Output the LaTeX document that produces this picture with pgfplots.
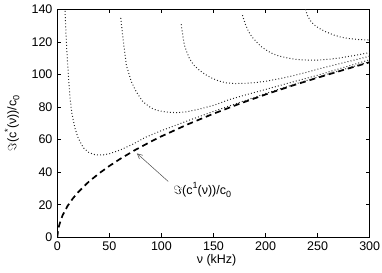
\documentclass[border=0pt]{standalone}
\usepackage{pgfplots}
\pgfplotsset{compat=1.18}
\usetikzlibrary{arrows.meta}
\usepackage{fontspec}
\setmainfont{Liberation Sans}
\newcommand{\sub}[1]{\raisebox{-0.45ex}{\fontsize{9bp}{10bp}\selectfont #1}}
\newcommand{\sups}[1]{\raisebox{0.85ex}{\fontsize{9bp}{10bp}\selectfont #1}}
\begin{document}
\fontsize{12.5bp}{14bp}\selectfont
\begin{tikzpicture}
\begin{axis}[
  scale only axis,
  width=312.4bp, height=228bp,
  xmin=0, xmax=300, ymin=0, ymax=140,
  xtick={0,50,...,300}, ytick={0,20,...,140},
  tick align=inside,
  major tick length=4bp,
  tick pos=both,
  axis line style={line width=0.5bp},
  every tick/.style={black, line width=0.5bp},
  /pgf/number format/assume math mode=true,
  tick label style={font=\fontsize{12.5bp}{14bp}\selectfont},
  xticklabel style={yshift=-0.5bp},
  yticklabel style={xshift=-0.5bp},
  xlabel={ν (kHz)},
  ylabel={$\Im$(c\sups{*}(ν))/c\sub{0}},
  xlabel style={at={(axis description cs:0.51,-0.1)}, anchor=center},
  ylabel style={at={(axis description cs:-0.145,0.5)}, anchor=center},
  clip=true,
]
% fundamental (dashed)
\addplot[black, line width=1.7bp, dash pattern=on 6bp off 4bp] coordinates {
(0,0) (1,5.5) (2.5,8.8) (5,13.4) (10,19.4) (15,23.9) (20,27.7) (30,34) (40,39.2)
(50,43.8) (60,48) (75,53.7) (90,58.8) (100,62) (125,69.3) (150,75.9) (175,82)
(200,87.7) (225,93) (250,98) (275,102.8) (300,107.5)};
% mode 1
\addplot[black!85, line width=1bp, dash pattern=on 0.9bp off 2.2bp] coordinates {
(7.4,139) (8.2,127) (9.2,114) (10.5,101) (12,87) (14,76) (17,67) (20,61) (25,55)
(30,52.2) (35,50.9) (40,50.5) (45,50.7) (50,51.3) (60,53.5) (72,57) (85,61.5)
(100,65.5) (125,71.5) (150,77.3) (175,82.8) (200,88.3) (225,93.4) (250,98.4)
(275,103.1) (300,107.8)};
% mode 2
\addplot[black!85, line width=1bp, dash pattern=on 0.9bp off 2.2bp] coordinates {
(60.9,134.7) (63.1,122) (66.3,105.7) (71.1,95.5) (75.9,89.3) (82.2,83.2) (90,79.5)
(95,78.1) (104.6,76.9) (115,76.5) (123.7,77) (135,78.5) (150,81) (165,84.5)
(180,87.3) (200,90.8) (225,95.2) (250,99.5) (275,104.3) (300,109)};
% mode 3
\addplot[black!85, line width=1bp, dash pattern=on 0.9bp off 2.2bp] coordinates {
(119,130.8) (120.5,124) (122,118) (124.5,113.5) (126.9,109.8) (131,105.8) (136.4,102.6)
(142,100) (149.1,97.5) (155,96) (162,94.9) (170,94.4) (180,94.5) (190,95)
(200,95.8) (212,97.2) (225,99) (240,101.4) (251,103.4) (265,105.6) (280,108) (300,111.2)};
% mode 4
\addplot[black!85, line width=1bp, dash pattern=on 0.9bp off 2.2bp] coordinates {
(177.8,136.4) (180.5,131) (183.5,126.5) (187,123) (190.6,120.5) (195,117.5)
(200,115.2) (205,113.3) (210,111.9) (216,110.8) (222,110) (230,109.2) (240,108.8)
(250,108.8) (260,109.3) (270,110) (285,111.6) (300,113.4)};
% mode 5
\addplot[black!85, line width=1bp, dash pattern=on 0.9bp off 2.2bp] coordinates {
(238.4,140) (240,136.5) (243,133) (246.5,130.5) (251,128.5) (257.5,126.3) (265,124.3)
(272,123) (280,122) (290,121.4) (300,121.1)};
% annotation
\draw[black!70, line width=0.5bp, -{Straight Barb[length=5bp, width=5bp]}] (axis cs:106.5,34.3) -- (axis cs:76.5,51.5);
\node[anchor=west, inner sep=0pt] at (axis cs:111.5,29) {$\Im$(c\sups{1}(ν))/c\sub{0}};
\end{axis}
\pgfresetboundingbox
\path ([shift={(-57.3bp,-35.7bp)}]current axis.south west) rectangle ([shift={(12.3bp,9.3bp)}]current axis.north east);
\end{tikzpicture}
\end{document}
